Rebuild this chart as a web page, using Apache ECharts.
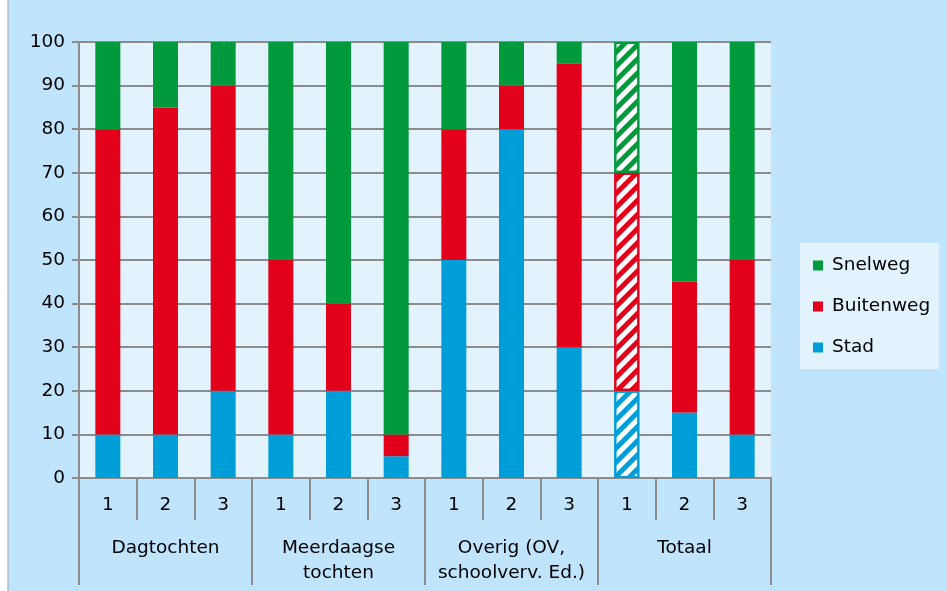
<!DOCTYPE html>
<html>
<head>
<meta charset="utf-8">
<script src="https://cdn.jsdelivr.net/npm/echarts@6/dist/echarts.min.js"></script>
<style>
  html, body { margin: 0; padding: 0; background: #fff; }
  #chart { width: 947px; height: 591px; }
</style>
</head>
<body>
<div id="chart"></div>
<script>
// categories: 3 trips per group, 4 groups
const tripLabels = ["1", "2", "3", "1", "2", "3", "1", "2", "3", "1", "2", "3"];
const groupLabels = ["Dagtochten", "Meerdaagse\ntochten", "Overig (OV,\nschoolverv. Ed.)", "Totaal"];

// percentages per road type
const stad = [10, 10, 20, 10, 20, 5, 50, 80, 30, 20, 15, 10];
const buitenweg = [70, 75, 70, 40, 20, 5, 30, 10, 65, 50, 30, 40];
const snelweg = [20, 15, 10, 50, 60, 90, 20, 10, 5, 30, 55, 50];

// index of the hatched (estimated) bar
const hatchedIndex = 9;

const colors = {
  Snelweg: "#009a3d",
  Buitenweg: "#e3001b",
  Stad: "#009ed8",
};

const font = "DejaVu Sans";
const fontSize = 18.5;
const gridColor = "#8c8c8c";

function makeData(values, color) {
  return values.map(function (v, i) {
    if (i !== hatchedIndex) {
      return v;
    }
    return {
      value: v,
      itemStyle: {
        color: "#ffffff",
        borderColor: color,
        borderWidth: 2,
        decal: {
          symbol: "rect",
          color: color,
          dashArrayX: [1, 0],
          dashArrayY: [5, 5],
          rotation: -Math.PI / 4,
        },
      },
    };
  });
}

function makeSeries(name, values) {
  return {
    name: name,
    type: "bar",
    stack: "total",
    xAxisIndex: 0,
    barWidth: 25,
    itemStyle: { color: colors[name] },
    data: makeData(values, colors[name]),
  };
}

const myChart = echarts.init(document.getElementById("chart"));
const option = {
  animation: false,
  backgroundColor: "#ffffff",
  textStyle: { fontFamily: font },
  graphic: [
    {
      type: "rect",
      z: -10,
      shape: { x: 8, y: -5, width: 960, height: 610 },
      style: { fill: "#bfe4fc", stroke: "#a0a0a0", lineWidth: 1 },
    },
  ],
  legend: {
    orient: "vertical",
    left: 800,
    top: 243,
    backgroundColor: "#e2f3fd",
    padding: [13, 9, 12, 13],
    itemGap: 22,
    itemWidth: 10,
    itemHeight: 10,
    icon: "rect",
    textStyle: { fontFamily: font, fontSize: fontSize, color: "#000", padding: [0, 0, 0, 4] },
    data: ["Snelweg", "Buitenweg", "Stad"],
  },
  grid: {
    left: 79,
    right: 176,
    top: 42,
    bottom: 113,
    show: true,
    backgroundColor: "#e2f3fd",
    borderWidth: 0,
  },
  xAxis: [
    {
      type: "category",
      data: tripLabels,
      position: "bottom",
      axisLine: { show: true, lineStyle: { color: gridColor, width: 2 } },
      axisTick: { show: true, length: 42, interval: 0, lineStyle: { color: gridColor, width: 2 } },
      axisLabel: { margin: 18, fontSize: fontSize, color: "#000", fontFamily: font, interval: 0 },
    },
    {
      type: "category",
      data: groupLabels,
      position: "bottom",
      axisLine: { show: false },
      axisTick: { show: true, length: 107, interval: 0, lineStyle: { color: gridColor, width: 2 } },
      axisLabel: {
        margin: 58,
        fontSize: fontSize,
        color: "#000",
        fontFamily: font,
        lineHeight: 25,
        interval: 0,
      },
    },
  ],
  yAxis: {
    type: "value",
    min: 0,
    max: 100,
    interval: 10,
    axisLine: { show: true, lineStyle: { color: gridColor, width: 2 } },
    axisTick: { show: true, length: 7, lineStyle: { color: gridColor, width: 2 } },
    axisLabel: { fontSize: fontSize, color: "#000", fontFamily: font, margin: 14 },
    splitLine: { lineStyle: { color: gridColor, width: 2 } },
  },
  series: [
    makeSeries("Stad", stad),
    makeSeries("Buitenweg", buitenweg),
    makeSeries("Snelweg", snelweg),
  ],
};

myChart.setOption(option);
</script>
</body>
</html>
